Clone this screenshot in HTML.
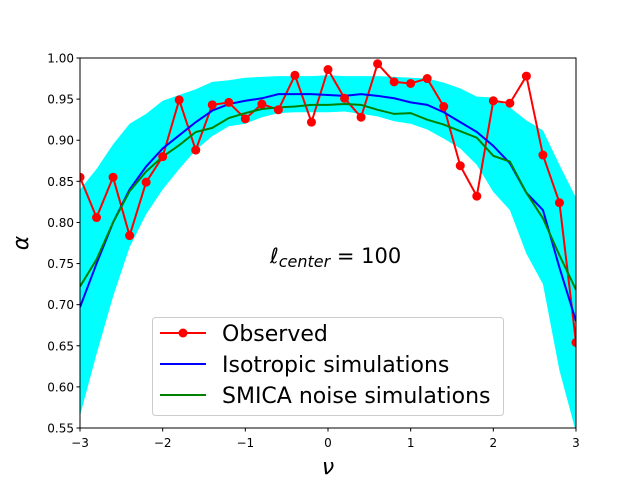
<!DOCTYPE html>
<html><head><meta charset="utf-8"><style>
body{margin:0;background:#fff;}
svg{display:block;font-family:"DejaVu Sans","Liberation Sans",sans-serif;}
</style></head><body>
<svg id="chart" width="640" height="480"></svg>
<script>
const nu=[-3,-2.8,-2.6,-2.4,-2.2,-2,-1.8,-1.6,-1.4,-1.2,-1,-0.8,-0.6,-0.4,-0.2,0,0.2,0.4,0.6,0.8,1,1.2,1.4,1.6,1.8,2,2.2,2.4,2.6,2.8,3];
const observed=[0.855,0.806,0.855,0.784,0.849,0.880,0.949,0.888,0.943,0.946,0.926,0.944,0.937,0.979,0.922,0.986,0.951,0.928,0.993,0.971,0.969,0.975,0.941,0.869,0.832,0.948,0.945,0.978,0.882,0.824,0.654];
const isotropic=[0.697,0.75,0.80,0.84,0.868,0.89,0.906,0.922,0.936,0.944,0.948,0.951,0.956,0.956,0.956,0.955,0.954,0.956,0.954,0.951,0.946,0.943,0.934,0.922,0.91,0.893,0.872,0.836,0.815,0.745,0.68];
const smica=[0.722,0.755,0.80,0.838,0.862,0.88,0.894,0.91,0.915,0.927,0.933,0.938,0.94,0.941,0.943,0.943,0.944,0.943,0.937,0.932,0.933,0.925,0.919,0.911,0.903,0.881,0.874,0.836,0.805,0.76,0.718];
const bandUpper=[0.84,0.865,0.895,0.92,0.932,0.948,0.955,0.962,0.971,0.973,0.976,0.977,0.978,0.978,0.978,0.979,0.978,0.978,0.978,0.977,0.976,0.975,0.97,0.963,0.953,0.952,0.94,0.924,0.912,0.87,0.83];
const bandLower=[0.565,0.64,0.71,0.77,0.81,0.84,0.865,0.888,0.905,0.917,0.92,0.928,0.933,0.934,0.934,0.934,0.935,0.932,0.929,0.923,0.92,0.913,0.902,0.89,0.87,0.837,0.815,0.762,0.725,0.62,0.545];
const xTicks=[-3,-2,-1,0,1,2,3];
const xTickLabels=["\u22123","\u22122","\u22121","0","1","2","3"];
const yTicks=[0.55,0.60,0.65,0.70,0.75,0.80,0.85,0.90,0.95,1.00];

const L=80,R=576,T=58,B=428;
const sx=v=>L+(v+3)/6*(R-L);
const sy=v=>B-(v-0.55)/0.45*(B-T);
const svg=document.getElementById('chart');
const NS='http://www.w3.org/2000/svg';
function mk(tag,attrs,parent){const e=document.createElementNS(NS,tag);for(const k in attrs)e.setAttribute(k,attrs[k]);(parent||svg).appendChild(e);return e;}

const clip=mk('clipPath',{id:'cp'});mk('rect',{x:L,y:T,width:R-L,height:B-T},clip);
const plot=mk('g',{'clip-path':'url(#cp)'});



let d='';nu.forEach((x,i)=>{d+=(i?'L':'M')+sx(x)+','+sy(bandUpper[i]);});
for(let i=nu.length-1;i>=0;i--)d+='L'+sx(nu[i])+','+sy(bandLower[i]);
const band=mk('path',{d:d+'Z',fill:'#00ffff',stroke:'none'},plot);



function line(arr,color,name){const p=mk('polyline',{points:nu.map((x,i)=>sx(x)+','+sy(arr[i])).join(' '),fill:'none',stroke:color,'stroke-width':2},plot);

}
line(observed,'#ff0000','observed-line');
line(isotropic,'#0000ff','isotropic-line');
line(smica,'#008000','smica-line');
nu.forEach((x,i)=>{const c=mk('circle',{cx:sx(x),cy:sy(observed[i]),r:4.5,fill:'#ff0000'},plot);

});

const frame=mk('rect',{x:L,y:T,width:R-L,height:B-T,fill:'none',stroke:'#000','stroke-width':1});



xTicks.forEach((v,i)=>{mk('line',{x1:sx(v),x2:sx(v),y1:B,y2:B+3.5,stroke:'#000'});
const t=mk('text',{x:sx(v),y:B+19,'font-size':12,'text-anchor':'middle'});t.textContent=xTickLabels[i];

});
yTicks.forEach(v=>{mk('line',{x1:L-3.5,x2:L,y1:sy(v),y2:sy(v),stroke:'#000'});
const t=mk('text',{x:L-6,y:sy(v)+4.5,'font-size':12,'text-anchor':'end'});t.textContent=v.toFixed(2);

});
</script>
<svg width="640" height="480" style="position:absolute;left:0;top:0">
<text x="328" y="474" font-size="22" font-style="italic" text-anchor="middle" font-family="DejaVu Sans,sans-serif">ν</text>
<text x="28" y="243" font-size="22" font-style="italic" text-anchor="middle" transform="rotate(-90 28 243)" font-family="DejaVu Sans,sans-serif">α</text>
<text x="270" y="263" font-size="21" font-family="DejaVu Sans,sans-serif"><tspan font-style="italic">ℓ</tspan><tspan font-style="italic" font-size="16" dy="4">center</tspan><tspan dy="-4"> = 100</tspan></text>
<g>
<rect x="152.5" y="317.5" width="351" height="98" rx="3" fill="#fff" fill-opacity="0.8" stroke="#ccc"/>
<line x1="160" x2="206" y1="333" y2="333" stroke="#ff0000" stroke-width="2"/><circle cx="183" cy="333" r="4.5" fill="#ff0000"/>
<text x="222" y="341" font-size="22" font-family="DejaVu Sans,sans-serif">Observed</text>
<line x1="160" x2="206" y1="364" y2="364" stroke="#0000ff" stroke-width="2"/>
<text x="222" y="372" font-size="22" font-family="DejaVu Sans,sans-serif">Isotropic simulations</text>
<line x1="160" x2="206" y1="395" y2="395" stroke="#008000" stroke-width="2"/>
<text x="222" y="403" font-size="22" font-family="DejaVu Sans,sans-serif">SMICA noise simulations</text>
</g>
</svg>
</body></html>
